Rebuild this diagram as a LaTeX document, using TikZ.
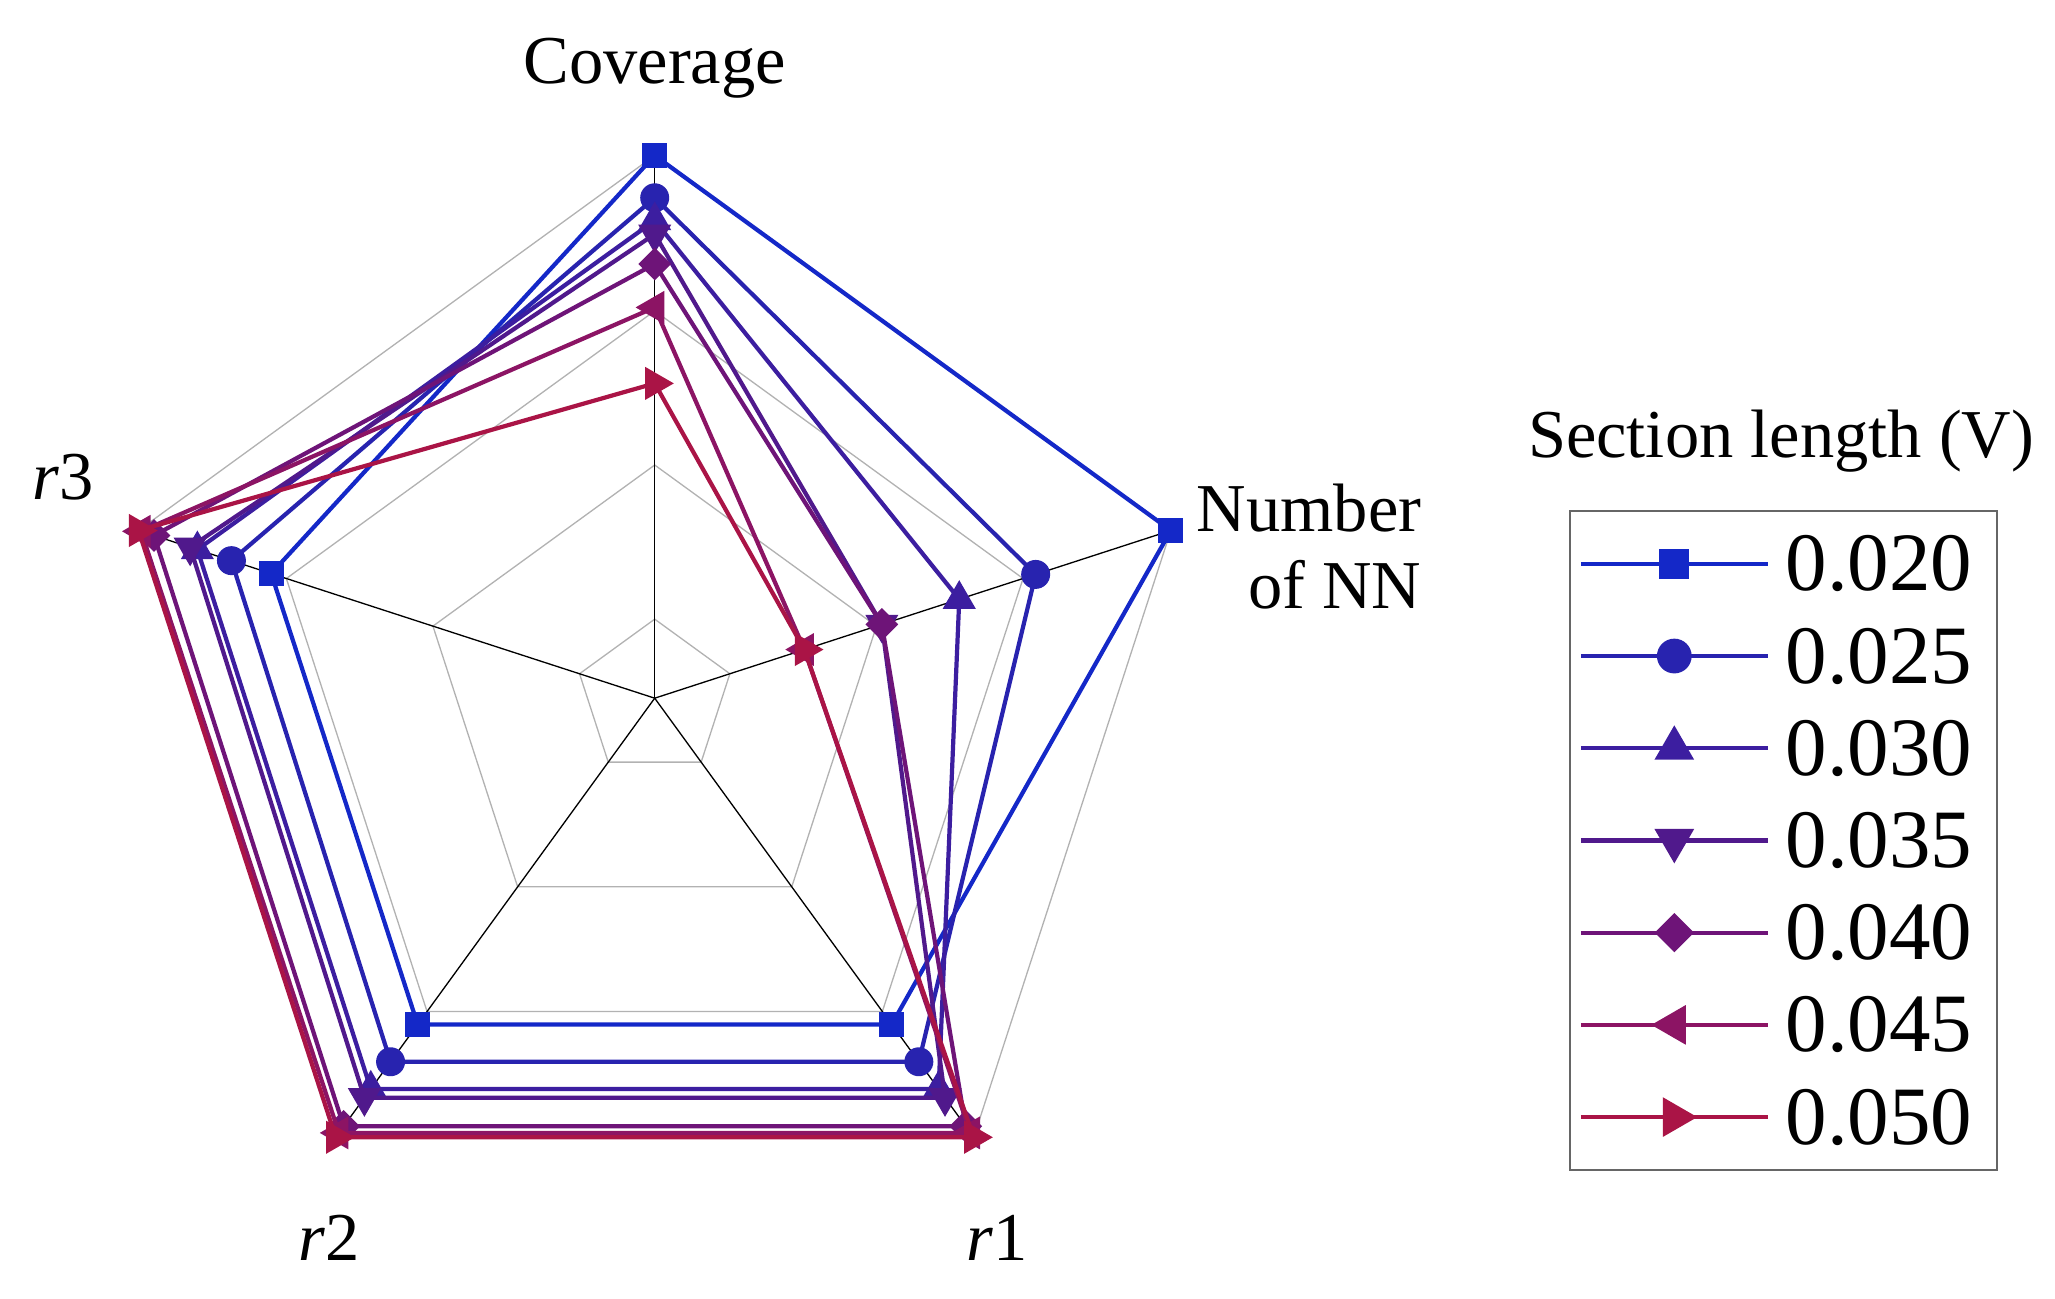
\documentclass[tikz,border=0pt]{standalone}
\usepackage{fontspec}
\setmainfont{Liberation Serif}
\usetikzlibrary{shapes.geometric}
\definecolor{c1}{RGB}{20,40,200}
\definecolor{c2}{RGB}{40,35,175}
\definecolor{c3}{RGB}{60,30,160}
\definecolor{c4}{RGB}{80,25,140}
\definecolor{c5}{RGB}{110,20,120}
\definecolor{c6}{RGB}{140,20,100}
\definecolor{c7}{RGB}{170,20,70}
\tikzset{
 mk/.style={inner sep=0pt,draw=none},
 m1/.style={mk,rectangle,minimum size=19pt},
 m2/.style={mk,circle,minimum size=22pt},
 m3/.style={mk,regular polygon,regular polygon sides=3,minimum size=29pt},
 m4/.style={mk,regular polygon,regular polygon sides=3,minimum size=29pt,rotate=180},
 m5/.style={mk,diamond,minimum width=25pt,minimum height=25pt},
 m6/.style={mk,regular polygon,regular polygon sides=3,minimum size=29pt,rotate=90},
 m7/.style={mk,regular polygon,regular polygon sides=3,minimum size=29pt,rotate=-90},
 grid/.style={gray!60,line width=1pt},
 spoke/.style={black,line width=1pt},
 ser/.style={line width=3.2pt,line join=round},
 lab/.style={font=\fontsize{52}{58}\selectfont},
}
\begin{document}
\begin{tikzpicture}[x=1pt,y=1pt]
\useasboundingbox (0,0) rectangle (1560,-986);
\begin{scope}[shift={(497,-530)}]
 \coordinate (O) at (0,0);
 \foreach \r in {60,177,294,412}{
  \draw[grid] (90:\r) -- (18:\r) -- (-54:\r) -- (-126:\r) -- (162:\r) -- cycle;
 }
 \foreach \a/\n in {90/ac,18/an,-54/a1,-126/a2,162/a3}{
  \coordinate (\n) at (\a:412);
  \draw[spoke] (O) -- (\n);
 }
 \foreach \col/\m/\a/\b/\c/\d/\e in {
  c1/m1/1.0/1.0/0.743/0.743/0.743,
  c2/m2/0.922/0.738/0.828/0.828/0.82,
  c3/m3/0.88/0.59/0.89/0.89/0.886,
  c4/m4/0.855/0.44/0.91/0.91/0.9,
  c5/m5/0.80/0.44/0.975/0.975/0.97,
  c6/m6/0.72/0.29/0.99/0.99/0.995,
  c7/m7/0.58/0.29/1.0/1.0/1.0}{
  \draw[ser,\col] (90:\a*412) -- (18:\b*412) -- (-54:\c*412) -- (-126:\d*412) -- (162:\e*412) -- cycle;
  \foreach \ang/\v in {90/\a,18/\b,-54/\c,-126/\d,162/\e}{
   \node[\m,fill=\col] at (\ang:\v*412) {};
  }
 }
\end{scope}
\node[lab] (cov) at (497,-52) {Coverage};
\node[lab,align=left,anchor=west] (nn) at (905,-415) {Number\\\ \ \ of NN};
\node[lab] (r3) at (48,-362) {\textit{r}3};
\node[lab] (r2) at (250,-940) {\textit{r}2};
\node[lab] (r1) at (757,-940) {\textit{r}1};
\node[lab] (title) at (1352,-335) {Section length (V)};
\draw[gray!80!black,line width=1.5pt] (1192,-388) rectangle (1516,-888);
\foreach \col/\m/\t [count=\i] in {c1/m1/0.020,c2/m2/0.025,c3/m3/0.030,c4/m4/0.035,c5/m5/0.040,c6/m6/0.045,c7/m7/0.050}{
 \pgfmathsetmacro\yy{-428-70*(\i-1)}
 \draw[ser,\col] (1200,\yy) -- (1342,\yy);
 \node[\m,fill=\col,scale=1.2] at (1271,\yy) {};
 \node[anchor=west,font=\fontsize{63}{68}\selectfont] at (1352,\yy) {\t};
}
\end{tikzpicture}
\end{document}
